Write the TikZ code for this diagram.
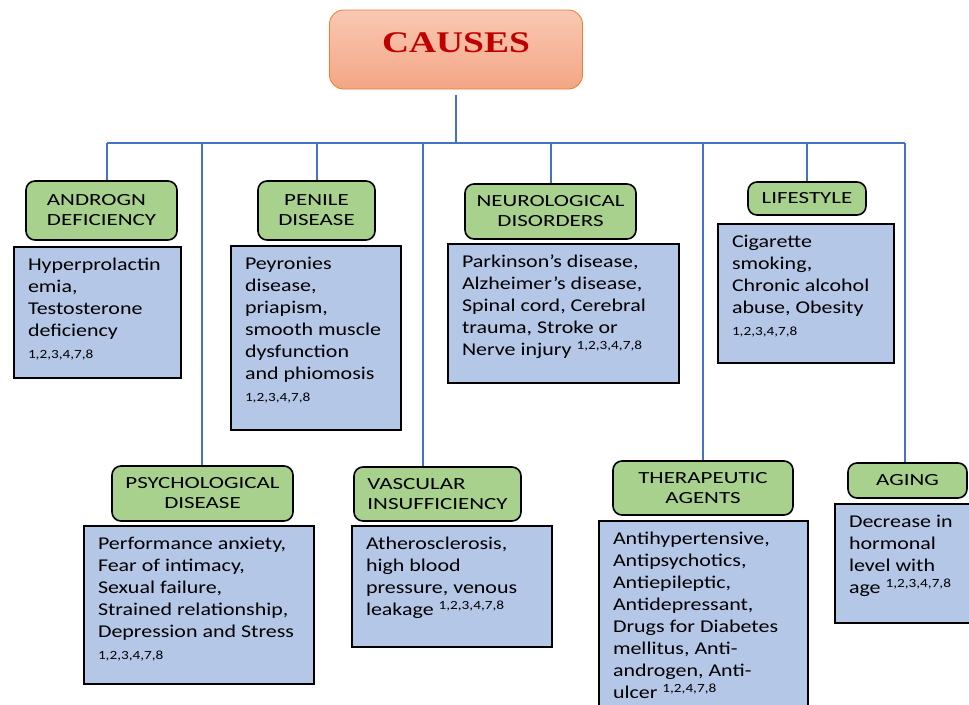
\documentclass[tikz,border=0pt]{standalone}
\usepackage{fontspec}
\setmainfont{Carlito}[FakeStretch=1.22]
\newfontfamily\headfont{Carlito}[FakeStretch=1.35]
\newfontfamily\titlefont{Liberation Serif}[FakeStretch=1.25]
\usetikzlibrary{positioning,calc}

\definecolor{headgreen}{HTML}{A9D18E}
\definecolor{bodyblue}{HTML}{B4C7E7}
\definecolor{linkblue}{HTML}{4472C4}
\definecolor{salmontop}{HTML}{F9C8B2}
\definecolor{salmonbot}{HTML}{F4A686}
\definecolor{causeedge}{HTML}{ED7D31}
\definecolor{causered}{HTML}{C00000}

\newcommand{\refnos}{{\fontsize{12.5}{14}\selectfont 1,2,3,4,7,8}}
\newcommand{\supnos}[1]{\raisebox{6pt}{\fontsize{12.5}{14}\selectfont #1}}
\newcommand{\boxtext}[3]{\parbox[t][#2][t]{#1}{\raggedright #3}}

\begin{document}
\begin{tikzpicture}[x=1pt, y=-1pt,
  link/.style={draw=linkblue, line width=1.3pt},
  head/.style={draw=black, line width=1.6pt, fill=headgreen, rounded corners=9pt, align=center, inner sep=2pt, font=\headfont\fontsize{17}{20}\selectfont},
  info/.style={draw=black, line width=2pt, fill=bodyblue, anchor=north west, inner xsep=14pt, inner ysep=11pt, font=\fontsize{18}{22}\selectfont},
  causebox/.style={draw=causeedge, line width=0.8pt, top color=salmontop, bottom color=salmonbot, rounded corners=14pt, minimum width=253pt, minimum height=79pt, text depth=13pt, font=\titlefont\bfseries\fontsize{30}{32}\selectfont, text=causered}]
\useasboundingbox (0,0) rectangle (969,704);
\clip (0,0) rectangle (969,704);

% root
\node[causebox] (causes) at (456,49.5) {CAUSES};

% headings
\node[head, minimum width=151pt, minimum height=59pt, align=left] (andro) at (101.5,210.5) {ANDROGN\\DEFICIENCY};
\node[head, minimum width=117pt, minimum height=59pt] (penile) at (316.5,210.5) {PENILE\\DISEASE};
\node[head, minimum width=171pt, minimum height=55pt] (neuro) at (550.5,211.5) {NEUROLOGICAL\\DISORDERS};
\node[head, minimum width=118pt, minimum height=33pt] (life) at (807,198.5) {LIFESTYLE};
\node[head, minimum width=181pt, minimum height=55pt] (psych) at (202.5,493.5) {PSYCHOLOGICAL\\DISEASE};
\node[head, minimum width=167pt, minimum height=54pt, align=left] (vasc) at (437.5,494) {VASCULAR\\INSUFFICIENCY};
\node[head, minimum width=180pt, minimum height=54pt] (thera) at (703,488) {THERAPEUTIC\\AGENTS};
\node[head, minimum width=119pt, minimum height=35pt] (aging) at (907.5,480.5) {AGING};

% details
\node[info] (androtxt) at (13,246) {\boxtext{139pt}{109pt}{Hyperprolactin\\emia,\\Testosterone\\deficiency\\\refnos}};
\node[info] (peniletxt) at (230,245) {\boxtext{142pt}{162pt}{Peyronies\\disease,\\priapism,\\smooth muscle\\dysfunction\\and phiomosis\\\refnos}};
\node[info] (neurotxt) at (447,243) {\boxtext{203pt}{117pt}{Parkinson’s disease,\\Alzheimer’s disease,\\Spinal cord, Cerebral\\trauma, Stroke or\\Nerve injury~\supnos{1,2,3,4,7,8}}};
\node[info] (lifetxt) at (717,223) {\boxtext{148pt}{117pt}{Cigarette\\smoking,\\Chronic alcohol\\abuse, Obesity\\\refnos}};
\node[info] (psychtxt) at (83,525) {\boxtext{202pt}{136pt}{Performance anxiety,\\Fear of intimacy,\\Sexual failure,\\Strained relationship,\\Depression and Stress\\\refnos}};
\node[info] (vasctxt) at (351,525) {\boxtext{172pt}{99pt}{Atherosclerosis,\\high blood\\pressure, venous\\leakage~\supnos{1,2,3,4,7,8}}};
\node[info] (theratxt) at (598,520) {\boxtext{181pt}{178pt}{Antihypertensive,\\Antipsychotics,\\Antiepileptic,\\Antidepressant,\\Drugs for Diabetes\\mellitus, Anti-\\androgen, Anti-\\ulcer~\supnos{1,2,4,7,8}}};
\node[info] (agingtxt) at (834,503) {\boxtext{118pt}{97pt}{Decrease in\\hormonal\\level with\\age~\supnos{1,2,3,4,7,8}}};

% connectors
\coordinate (bus) at (456,143);
\coordinate (j-andro) at (107,143);
\coordinate (j-psych) at (202,143);
\coordinate (j-penile) at (317,143);
\coordinate (j-vasc) at (423,143);
\coordinate (j-neuro) at (551,143);
\coordinate (j-thera) at (703,143);
\coordinate (j-life) at (807,143);
\coordinate (j-aging) at (905,143);
\draw[link, shorten <=6pt] (causes.south) -- (bus);
\draw[link] (j-andro) -- (j-aging);
\foreach \h in {andro,psych,penile,vasc,neuro,thera,life,aging}
  \draw[link] (j-\h) -- (j-\h |- \h.north);
\end{tikzpicture}
\end{document}
